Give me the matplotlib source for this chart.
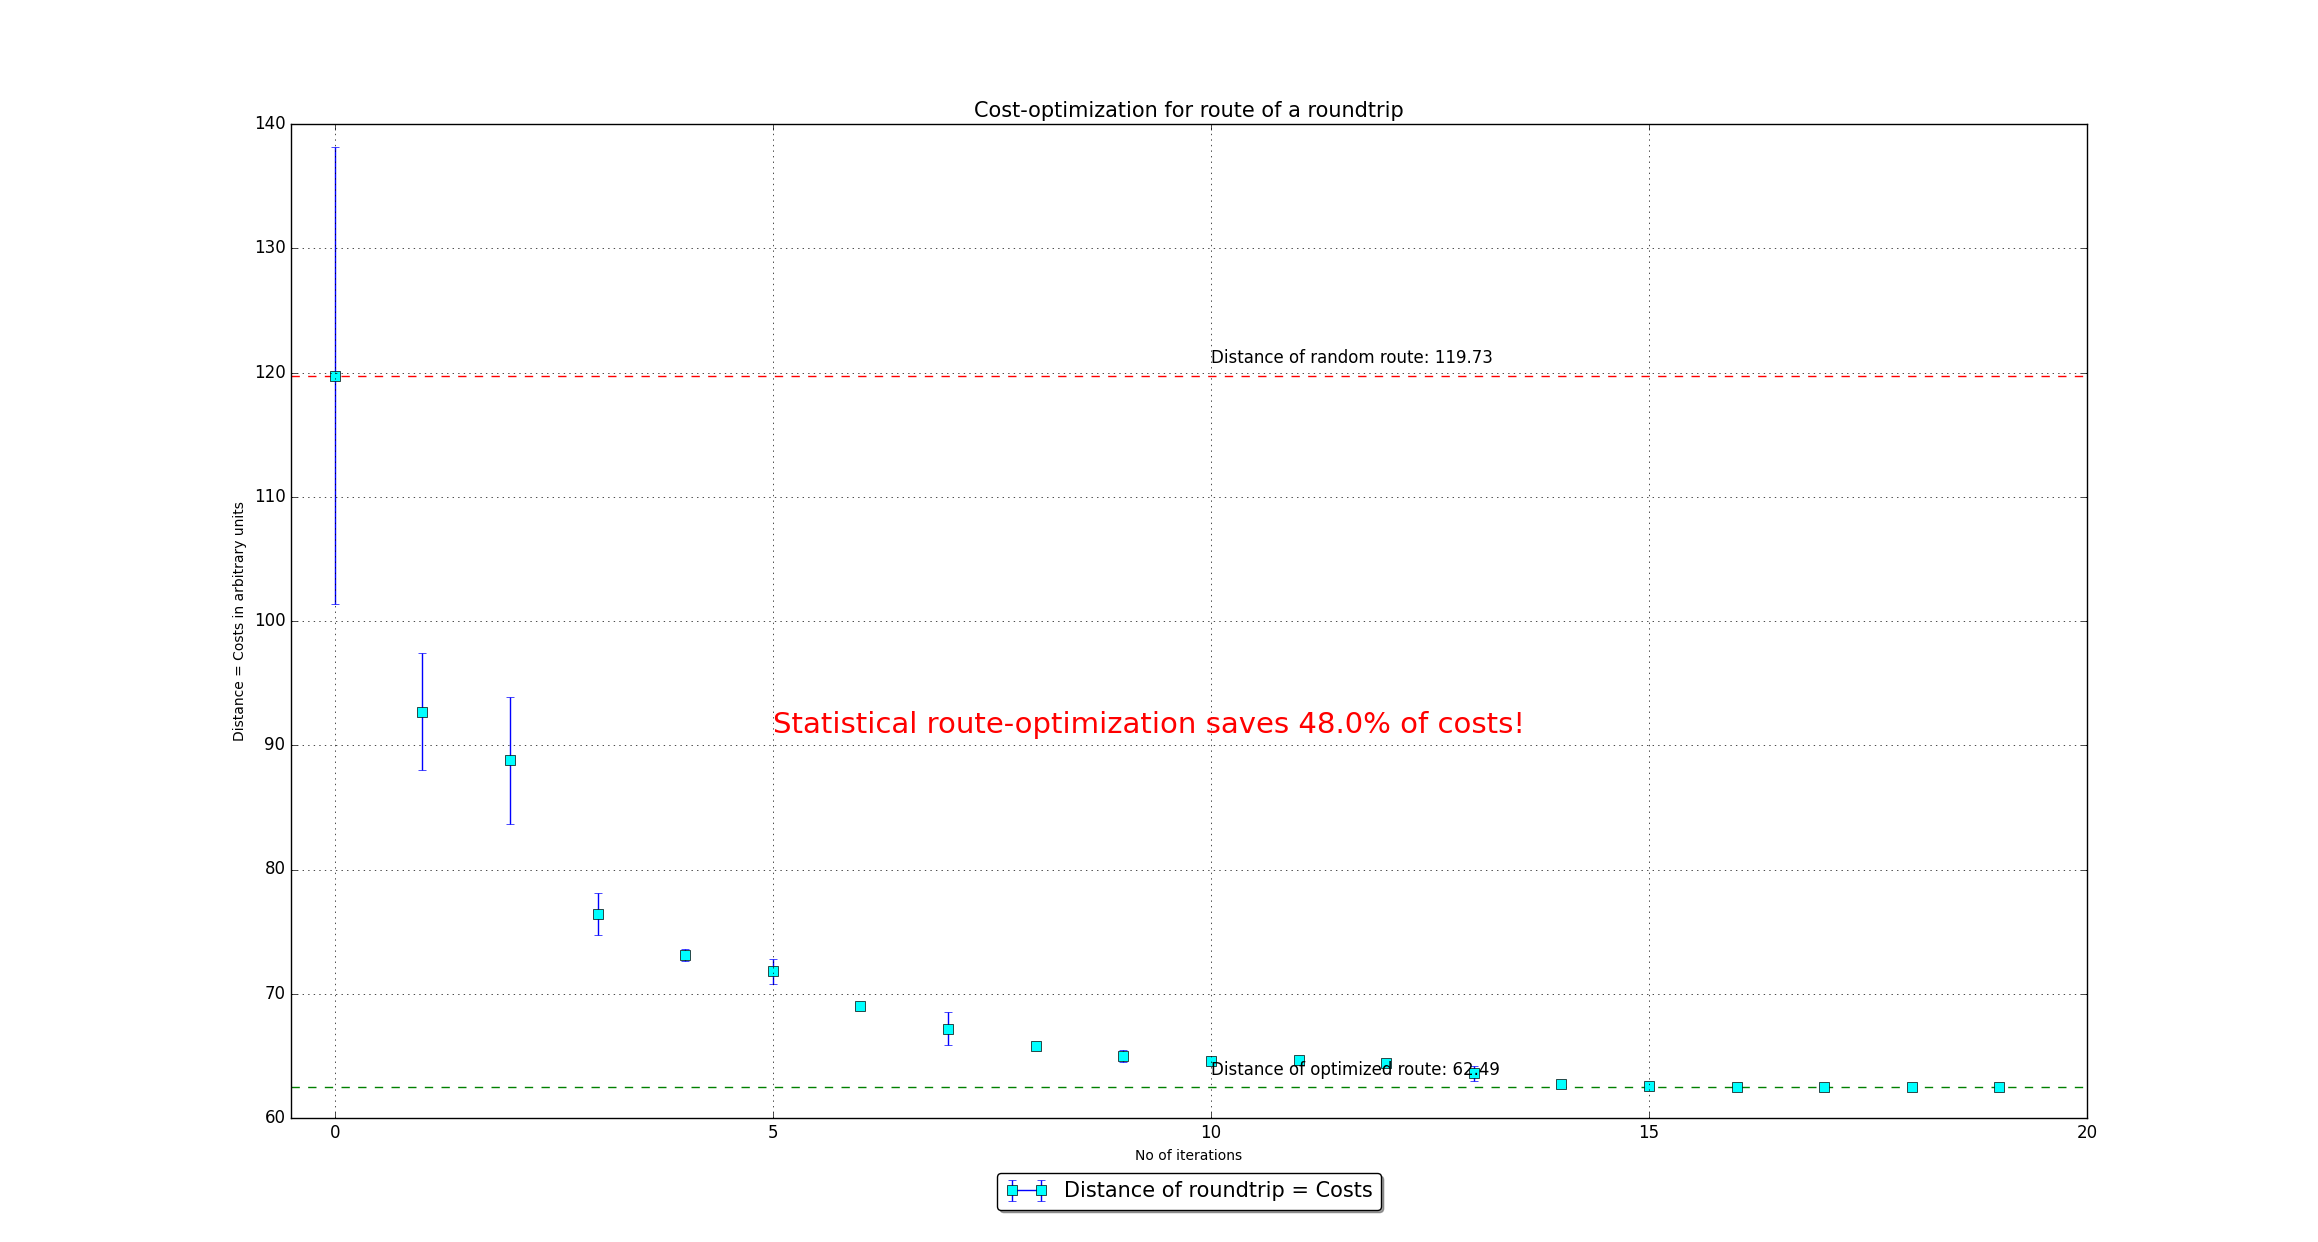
import matplotlib
matplotlib.use("Agg")
import matplotlib.pyplot as plt
plt.style.use("classic")

iterations = list(range(20))
costs = [119.73, 92.7, 88.8, 76.4, 73.1, 71.8, 69.0, 67.2, 65.8, 65.0,
         64.6, 64.7, 64.4, 63.6, 62.7, 62.55, 62.5, 62.49, 62.49, 62.49]
errors = [18.4, 4.7, 5.1, 1.7, 0.5, 1.0, 0.2, 1.3, 0.2, 0.5,
          0.2, 0.2, 0.2, 0.6, 0.2, 0.2, 0.2, 0.2, 0.2, 0.2]
random_route = 119.73
optimized_route = 62.49
savings_pct = 48.0

fig = plt.figure(figsize=(23.18, 12.42), dpi=100, facecolor="white")
ax = fig.add_axes([291/2318, 1-1118/1242, (2087-291)/2318, (1118-124)/1242])
eb = ax.errorbar(iterations, costs, yerr=errors, fmt="-s", color="blue", mfc="cyan",
                 mec="black", ms=6.5, capsize=3, label="Distance of roundtrip = Costs")
ax.axhline(random_route, color="red", ls="--")
ax.axhline(optimized_route, color="green", ls="--")
ax.text(10, random_route + 1, "Distance of random route: %.2f" % random_route, fontsize=12)
ax.text(10, optimized_route + 1, "Distance of optimized route: %.2f" % optimized_route, fontsize=12)
ax.text(5, 91, "Statistical route-optimization saves %.1f%% of costs!" % savings_pct,
        fontsize=21, color="red")
ax.set_xlim(-0.5, 20)
ax.set_ylim(60, 140)
ax.grid(True)
ax.set_title("Cost-optimization for route of a roundtrip", fontsize=15)
ax.set_xlabel("No of iterations", fontsize=10)
ax.set_ylabel("Distance = Costs in arbitrary units", fontsize=10)
ax.tick_params(labelsize=12)
ax.legend(loc="upper center", bbox_to_anchor=(0.5, -0.045), shadow=True, fancybox=True,
          fontsize=15, numpoints=2)
eb[0].set_linestyle("none")
fig.savefig("out.png", dpi=100, facecolor="white")
